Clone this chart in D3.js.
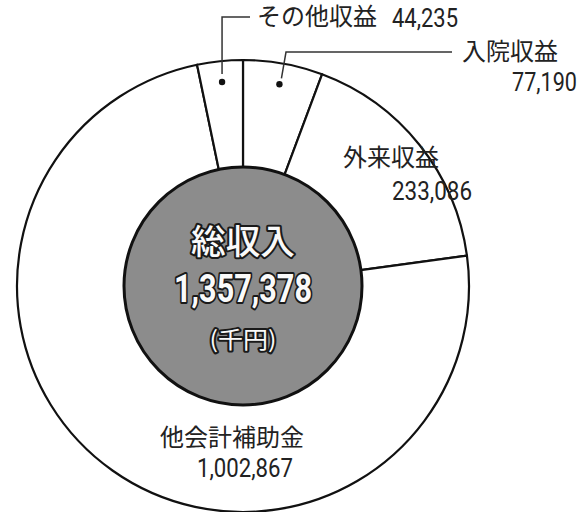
<!DOCTYPE html>
<html>
<head>
<meta charset="utf-8">
<script src="https://cdn.jsdelivr.net/npm/d3@7"></script>
<style>
  body { margin: 0; background: #fff; }
  svg { display: block; }
</style>
</head>
<body>
<div id="chart"></div>
<script>
// revenue breakdown (千円), clockwise from 12 o'clock
const categories = ["入院収益", "外来収益", "他会計補助金", "その他収益"];
const values = [77190, 233086, 1002867, 44235];
const valueLabels = ["77,190", "233,086", "1,002,867", "44,235"];
const centerTitle = "総収入";
const centerTotal = "1,357,378";
const centerUnit = "(千円)";

const W = 588, H = 512;
const cx = 243, cy = 286, outerR = 226, innerR = 119;
const jp = "'Noto Sans CJK JP', 'Noto Sans', sans-serif";
const num = "'Liberation Sans Narrow', Roboto, 'Liberation Sans', sans-serif";

const svg = d3.select("#chart").append("svg")
  .attr("width", W).attr("height", H);

const g = svg.append("g").attr("transform", `translate(${cx},${cy})`);

const pie = d3.pie().sort(null).value(d => d.value);
const arcs = pie(categories.map((c, i) => ({ name: c, value: values[i], label: valueLabels[i] })));

const arc = d3.arc().innerRadius(innerR - 2).outerRadius(outerR);

// slices: white with black outline
g.selectAll("path.slice")
  .data(arcs)
  .join("path")
  .attr("class", "slice")
  .attr("d", arc)
  .attr("fill", "#fff")
  .attr("stroke", "#111")
  .attr("stroke-width", 2.2)
  .attr("stroke-linejoin", "round");

// grey centre disc
g.append("circle")
  .attr("r", innerR)
  .attr("fill", "#8c8c8c")
  .attr("stroke", "#111")
  .attr("stroke-width", 3);

// centre texts, white with dark outline
const centre = [
  { t: centerTitle, y: -32, size: 34, font: jp, weight: 500, len: 104 },
  { t: centerTotal, y: 16, size: 38, font: num, weight: 700, len: 138 },
  { t: centerUnit, y: 62, size: 23, font: jp, weight: 400, len: 67 }
];
centre.forEach(c => {
  g.append("text")
    .attr("x", 0).attr("y", c.y)
    .attr("text-anchor", "middle")
    .attr("font-family", c.font)
    .attr("font-size", c.size)
    .attr("font-weight", c.weight)
    .attr("fill", "#fafafa")
    .attr("stroke", "#1a1a1a")
    .attr("stroke-width", 4)
    .attr("paint-order", "stroke")
    .attr("stroke-linejoin", "round")
    .attr("textLength", c.len)
    .attr("lengthAdjust", "spacingAndGlyphs")
    .text(c.t);
});

// label layout (offsets relative to chart centre)
const layout = {
  "入院収益":   { name: [219, -226], val: [269, -195], valLen: 65 },
  "外来収益":   { name: [100, -120], val: [149, -86], valLen: 80 },
  "他会計補助金": { name: [-83, 160], val: [-46, 191], valLen: 96 },
  "その他収益": { name: [14, -261], val: [149, -259], valLen: 66 }
};

const textCol = "#222";
arcs.forEach(a => {
  const L = layout[a.data.name];
  g.append("text")
    .attr("x", L.name[0]).attr("y", L.name[1])
    .attr("font-family", jp)
    .attr("font-size", 24)
    .attr("fill", textCol)
    .text(a.data.name);
  g.append("text")
    .attr("x", L.val[0]).attr("y", L.val[1])
    .attr("font-family", num)
    .attr("font-size", 26)
    .attr("fill", textCol)
    .attr("textLength", L.valLen)
    .attr("lengthAdjust", "spacingAndGlyphs")
    .text(a.data.label);
});

// leader lines for the two thin slices
const dotArc = d3.arc().innerRadius(205).outerRadius(205);
const byName = Object.fromEntries(arcs.map(a => [a.data.name, a]));

const pOther = dotArc.centroid(byName["その他収益"]);
const pIn = dotArc.centroid(byName["入院収益"]);

const leaders = [
  [[pOther[0], pOther[1] - 8], [pOther[0], -269], [7, -269]],
  [[pIn[0] + 2, pIn[1] - 6], [43, -234], [209, -234]]
];
const line = d3.line();
leaders.forEach(pts => {
  g.append("path")
    .attr("d", line(pts))
    .attr("fill", "none")
    .attr("stroke", "#333")
    .attr("stroke-width", 1.5);
});
g.selectAll("circle.dot")
  .data([pOther, pIn])
  .join("circle")
  .attr("class", "dot")
  .attr("cx", d => d[0]).attr("cy", d => d[1])
  .attr("r", 3.2)
  .attr("fill", "#111");
</script>
</body>
</html>
